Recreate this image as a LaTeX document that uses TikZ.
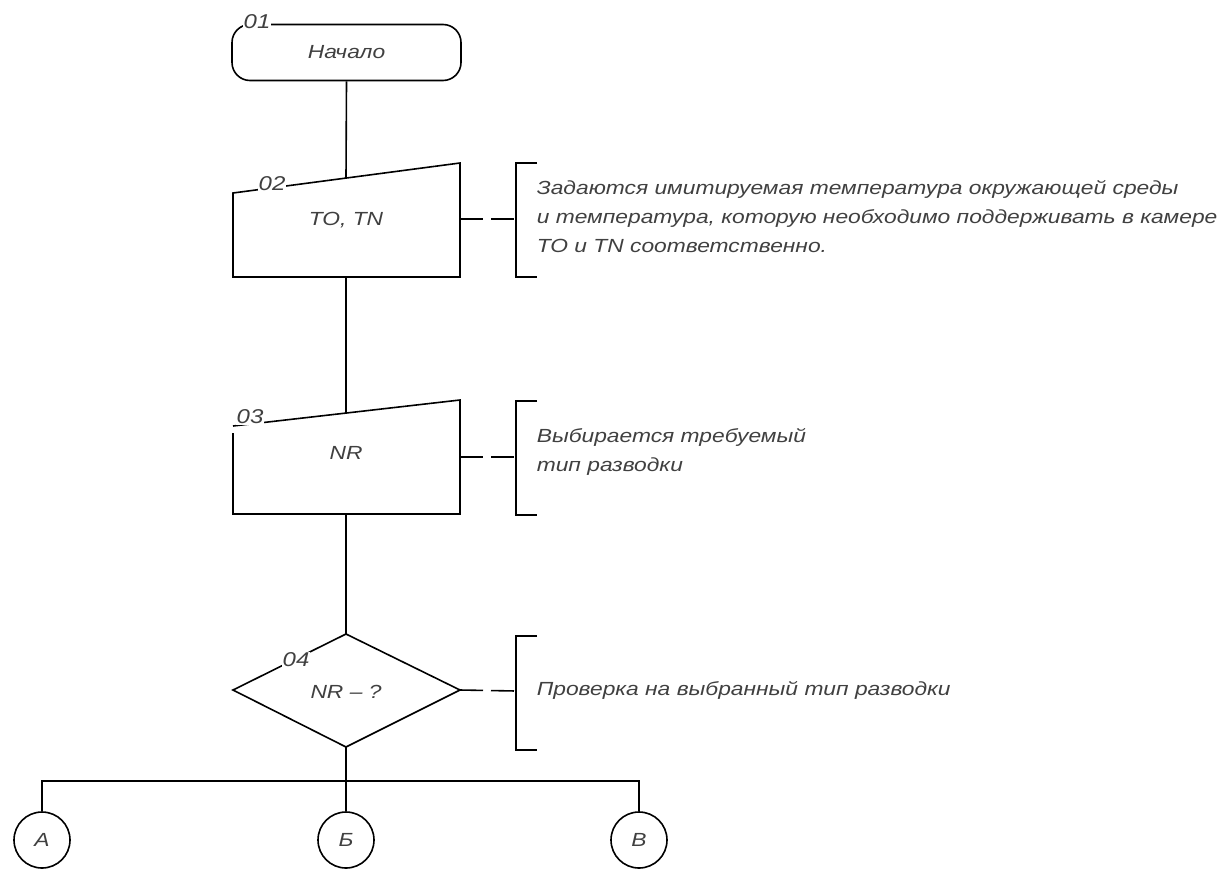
\documentclass[tikz,border=0pt]{standalone}
\usepackage{fontspec}
\setmainfont{Liberation Sans}
\newfontfamily\gost{Liberation Sans}[FakeStretch=1.2]
\begin{document}
\begin{tikzpicture}[x=1pt,y=-1pt,line width=1.6pt,
  lbl/.style={font=\gost\itshape\fontsize{19}{29}\selectfont, text=black!75, inner sep=1pt},
  num/.style={lbl, fill=white, font=\gost\itshape\fontsize{20}{24}\selectfont},
  note/.style={lbl, anchor=west, align=left},
  link/.style={dash pattern=on 23pt off 8pt}]
\useasboundingbox (0,0) rectangle (1222,870);

% 01 terminal
\node[draw, rounded corners=18pt, minimum width=229pt, minimum height=56pt, lbl] (n1) at (346.5,52.5) {Начало};
\node[num] (l1) at (257,22) {01};

% 02 manual input
\coordinate (b2tl) at (233,193);
\coordinate (b2tr) at (460,163);
\coordinate (b2br) at (460,277);
\coordinate (b2bl) at (233,277);
\coordinate (b2in) at (346,178);
\coordinate (b2out) at (346,277);
\coordinate (b2r) at (460,219);
\draw (b2bl) -- (b2tl) -- (b2tr) -- (b2br) -- cycle;
\node[lbl] (t2) at (346,220) {TO, TN};
\node[num] (l2) at (272,184) {02};
\draw (n1.south) -- (b2in);

\coordinate (k2) at (516,219);
\draw (537,163) -- (516,163) -- (516,277) -- (537,277);
\draw[link] (b2r) -- (k2);
\node[note] (c2) at (535,217) {Задаются имитируемая температура окружающей среды\\и температура, которую необходимо поддерживать в камере\\TO и TN соответственно.};

% 03 manual input
\coordinate (b3tl) at (233,426);
\coordinate (b3tr) at (460,400);
\coordinate (b3br) at (460,514);
\coordinate (b3bl) at (233,514);
\coordinate (b3lv) at (233,433);
\coordinate (b3in) at (346,413);
\coordinate (b3out) at (346,514);
\coordinate (b3r) at (460,457);
\draw (b3tl) -- (b3tr) -- (b3br) -- (b3bl) -- (b3lv);
\node[lbl] (t3) at (346,453) {NR};
\node[num] (l3) at (250,417) {03};
\draw (b2out) -- (b3in);

\coordinate (k3) at (516,457);
\draw (537,401) -- (516,401) -- (516,515) -- (537,515);
\draw[link] (b3r) -- (k3);
\node[note] (c3) at (535,452) {Выбирается требуемый\\тип разводки};

% 04 decision
\coordinate (dt) at (346,634);
\coordinate (dr) at (460,690);
\coordinate (db) at (346,747);
\coordinate (dl) at (233,690);
\draw (dt) -- (dr) -- (db) -- (dl) -- cycle;
\node[lbl] (t4) at (346,692) {NR – ?};
\node[num] (l4) at (296,660) {04};
\draw (b3out) -- (dt);

\coordinate (k4) at (516,691);
\draw (537,636) -- (516,636) -- (516,750) -- (537,750);
\draw[link] (dr) -- (k4);
\node[note] (c4) at (535,690) {Проверка на выбранный тип разводки};

% connectors
\node[draw, circle, minimum size=56pt, inner sep=0pt, lbl] (cA) at (42,840) {А};
\node[draw, circle, minimum size=56pt, inner sep=0pt, lbl] (cB) at (346,840) {Б};
\node[draw, circle, minimum size=56pt, inner sep=0pt, lbl] (cV) at (639,840) {В};
\coordinate (bus) at (346,781);
\draw (db) -- (bus) -- (cB.north);
\draw (cA.north) -- (cA.north |- bus) -- (cV.north |- bus) -- (cV.north);
\end{tikzpicture}
\end{document}
